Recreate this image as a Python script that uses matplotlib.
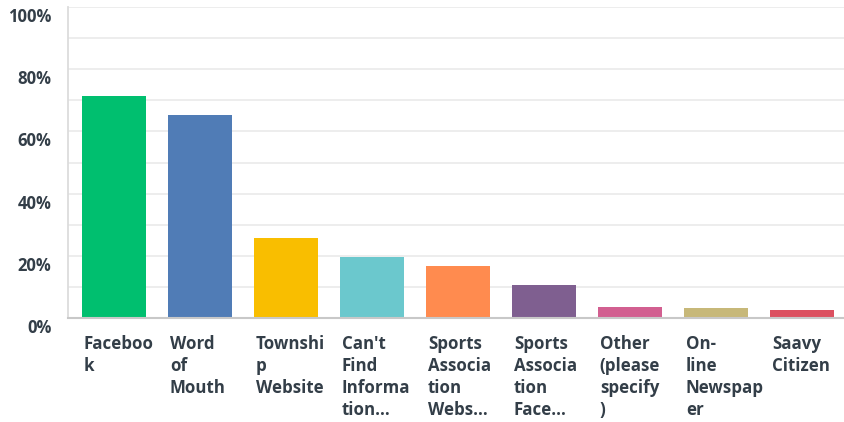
import numpy as np
import matplotlib
matplotlib.use("Agg")
from matplotlib import pyplot as plt
from matplotlib.transforms import ScaledTranslation, blended_transform_factory

# datos
categorias = ["Faceboo\nk", "Word\nof\nMouth", "Townshi\np\nWebsite", "Can't\nFind\nInforma\ntion...",
              "Sports\nAssocia\ntion\nWebs...", "Sports\nAssocia\ntion\nFace...", "Other\n(please\nspecify\n)",
              "On-\nline\nNewspap\ner", "Saavy\nCitizen"]
porcentajes = [71.4, 65.3, 25.7, 19.6, 16.7, 10.6, 3.5, 3.2, 2.6]
colores = ["#00bf6f", "#507cb6", "#f9be00", "#6bc8cd", "#ff8b4f", "#7f5f90", "#d25f90", "#c7b879", "#dc5060"]
ticks_y = [0, 20, 40, 60, 80, 100]

texto = "#333e48"
plt.rcParams['font.family'] = ['Open Sans', 'DejaVu Sans']

fig = plt.figure(figsize=(8.44, 4.22), dpi=100)
ax = fig.add_axes([68/844, 1-318/422, 1-68/844, 311/422])

x = np.arange(len(categorias))
ancho = 0.74
ax.bar(x, porcentajes, width=ancho, color=colores, zorder=3)

ax.set_xlim(-0.535, 8.49)
ax.set_ylim(0, 100)

# grilla cada 10%
for g in range(10, 101, 10):
    ax.axhline(g, color="#ececec", lw=1.3, zorder=1)

ax.set_yticks(ticks_y)
ax.set_yticklabels([f"{t}%" for t in ticks_y], fontsize=12, fontweight="bold", color=texto)
ax.tick_params(axis="y", length=0, pad=12)
for lab in ax.get_yticklabels():
    lab.set_transform(lab.get_transform() + ScaledTranslation(0, -8/100, fig.dpi_scale_trans))

ax.set_xticks([])
for s in ["top", "right"]:
    ax.spines[s].set_visible(False)
ax.spines["left"].set_color("#dcdcdc")
ax.spines["left"].set_linewidth(1.3)
ax.spines["bottom"].set_color("#c8c8c8")
ax.spines["bottom"].set_linewidth(1.5)
ax.spines["bottom"].set_zorder(4)

trans = blended_transform_factory(ax.transData, fig.transFigure)
for xi, cat in zip(x, categorias):
    ax.text(xi - ancho/2 + 0.02, 1-335/422, cat, transform=trans, ha="left", va="top",
            fontsize=12.2, fontweight="bold", color=texto, linespacing=1.28)

fig.savefig("out.png", dpi=100)
